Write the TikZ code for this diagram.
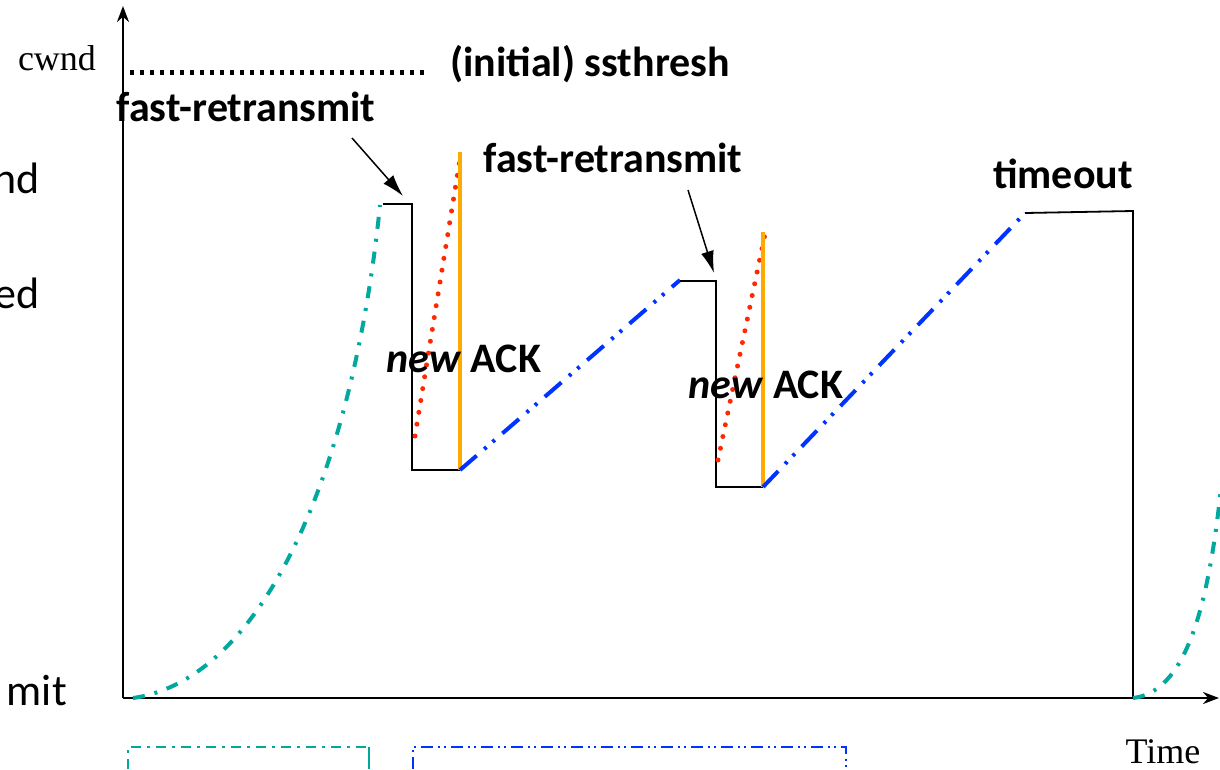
\documentclass[tikz,border=0pt]{standalone}
\usepackage{fontspec}
\setmainfont{Carlito}
\newfontfamily\tnr{Liberation Serif}
\usetikzlibrary{arrows.meta}
\definecolor{tealc}{RGB}{0,168,158}
\definecolor{bluec}{RGB}{0,51,255}
\definecolor{redc}{RGB}{255,40,0}
\definecolor{orangec}{RGB}{255,170,0}
\begin{document}
\begin{tikzpicture}[x=1pt,y=-1pt,
  lbl/.style={font=\fontsize{42}{48}\selectfont\bfseries, inner sep=0pt, anchor=base},
  cut/.style={font=\fontsize{44}{50}\selectfont, inner sep=0pt, anchor=base east},
  serif/.style={font=\tnr\fontsize{36}{40}\selectfont, inner sep=0pt, anchor=base},
  axis/.style={line width=2.4pt, -{Stealth[length=16pt,width=12pt]}},
  stepline/.style={line width=1.8pt, black},
  slowstart/.style={tealc, line width=4pt, dash pattern=on 12pt off 10pt on 3pt off 10pt},
  congav/.style={bluec, line width=4pt, dash pattern=on 22pt off 10pt on 3pt off 8pt on 3pt off 10pt},
  inflate/.style={redc, line width=5pt, line cap=round, dash pattern=on 0pt off 12pt},
  deflate/.style={orangec, line width=4pt},
  ptr/.style={line width=1.5pt, -{Latex[length=22pt,width=13pt]}},
]
\useasboundingbox (0,0) rectangle (1220,769);
% axes
\coordinate (O) at (123,698);
\coordinate (Ytop) at (123,6);
\coordinate (Xend) at (1219,698);
\draw[axis] (O) -- (Ytop);
\draw[axis] (O) -- (Xend);
\node[serif] (cwnd) at (57,70) {cwnd};
\node[serif] (time) at (1163,763) {Time};
% ssthresh
\coordinate (ss1) at (130,72);
\coordinate (ss2) at (424,72);
\draw[line width=5pt, dash pattern=on 4pt off 6pt] (ss1) -- (ss2);
\node[lbl] (ssth) at (590,76) {(initial) ssthresh};
% cut-off left texts
\node[cut] (c1) at (40,193) {nd};
\node[cut] (c2) at (40,308) {ed};
\node[cut] (c3) at (67,705) {mit};
% first slow start
\coordinate (s0) at (133,698);
\coordinate (s1) at (380,205);
\draw[slowstart] (s0) .. controls (260,680) and (352,480) .. (s1);
% first fast retransmit
\coordinate (a1) at (383,204);
\coordinate (a2) at (412,204);
\coordinate (a3) at (412,470);
\coordinate (a4) at (460,470);
\draw[stepline] (a1) -- (a2) -- (a3) -- (a4);
\coordinate (r1) at (415,436);
\coordinate (r2) at (461,153);
\draw[inflate] (r1) -- (r2);
\coordinate (o1) at (460,152);
\draw[deflate] (o1) -- (a4);
\coordinate (b1) at (680,280);
\draw[congav] (a4) -- (b1);
% second fast retransmit
\coordinate (d1) at (680,281);
\coordinate (d2) at (716,281);
\coordinate (d3) at (716,487);
\coordinate (d4) at (763,487);
\draw[stepline] (d1) -- (d2) -- (d3) -- (d4);
\coordinate (r3) at (718,460);
\coordinate (r4) at (765,234);
\draw[inflate] (r3) -- (r4);
\coordinate (o2) at (763,232);
\draw[deflate] (o2) -- (d4);
\coordinate (b2) at (1025,213);
\draw[congav] (d4) -- (b2);
% timeout
\coordinate (t1) at (1133,211);
\coordinate (t2) at (1133,698);
\draw[stepline] (b2) -- (t1) -- (t2);
\draw[slowstart] (t2) .. controls (1185,692) and (1208,610) .. (1221,488);
% labels
\node[lbl] (fr1) at (246,121) {fast-retransmit};
\node[lbl] (fr2) at (613,172) {fast-retransmit};
\node[lbl] (to) at (1063,188) {timeout};
\node[lbl] (na1) at (464,372) {\textit{new} ACK};
\node[lbl] (na2) at (766,398) {\textit{new} ACK};
\coordinate (p1s) at (352,138);
\coordinate (p1e) at (403,196);
\draw[ptr] (p1s) -- (p1e);
\coordinate (p2s) at (688,190);
\coordinate (p2e) at (714,273);
\draw[ptr] (p2s) -- (p2e);
% bottom brackets
\coordinate (k1) at (128,769);
\coordinate (k2) at (128,747);
\coordinate (k3) at (369,747);
\coordinate (k4) at (369,769);
\draw[tealc, line width=1.8pt, dash pattern=on 10pt off 6pt on 3pt off 6pt] (k1) -- (k2) -- (k3);
\draw[tealc, line width=1.8pt] (k3) -- (k4);
\coordinate (m1) at (413,769);
\coordinate (m2) at (413,747);
\coordinate (m3) at (846,747);
\coordinate (m4) at (846,769);
\draw[bluec, line width=1.8pt, dash pattern=on 12pt off 5pt on 2pt off 4pt on 2pt off 5pt] (m1) -- (m2) -- (m3) -- (m4);
\end{tikzpicture}
\end{document}
